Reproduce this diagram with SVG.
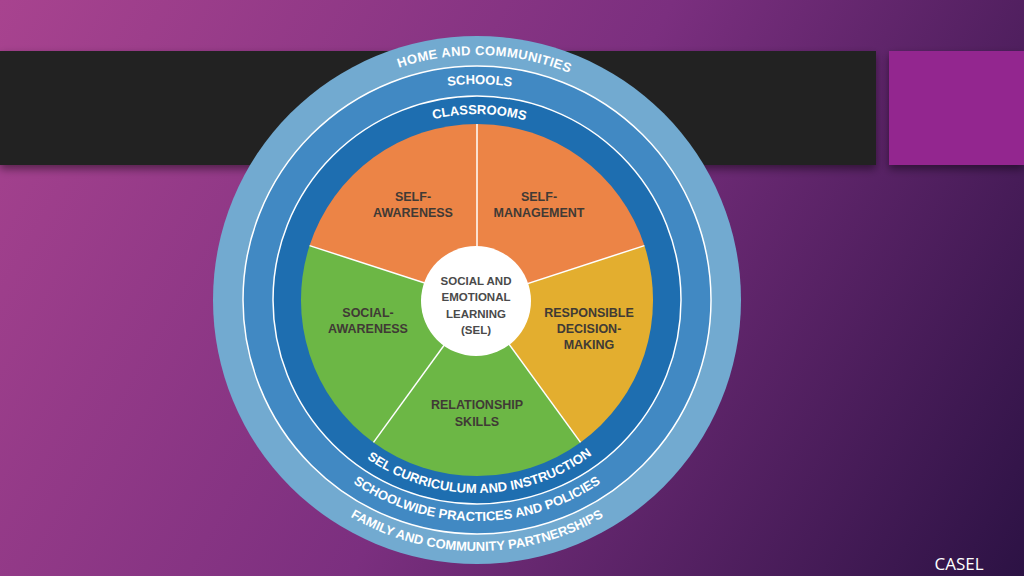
<svg xmlns="http://www.w3.org/2000/svg" width="1024" height="576" viewBox="0 0 1024 576">
  <defs>
    <linearGradient id="bg" x1="0" y1="0" x2="1024" y2="576" gradientUnits="userSpaceOnUse">
      <stop offset="0" stop-color="#a8438f"/>
      <stop offset="0.5" stop-color="#7b2f7f"/>
      <stop offset="1" stop-color="#2c1244"/>
    </linearGradient>
    <filter id="shadow" x="-5%" y="-20%" width="110%" height="150%">
      <feDropShadow dx="0" dy="4" stdDeviation="4" flood-color="#000" flood-opacity="0.45"/>
    </filter>
    <path id="pHome" d="M 232 300 A 245 245 0 0 1 722 300"/>
    <path id="pSchools" d="M 261 300 A 216 216 0 0 1 693 300"/>
    <path id="pClass" d="M 291 300 A 186 186 0 0 1 663 300"/>
    <path id="pSel" d="M 284 300 A 193 193 0 0 0 670 300"/>
    <path id="pSchoolwide" d="M 256 300 A 221 221 0 0 0 698 300"/>
    <path id="pFamily" d="M 226 300 A 251 251 0 0 0 728 300"/>
  </defs>
  <style>
    .ring { font-family: "Liberation Sans", Arial, sans-serif; font-weight: bold; font-size: 13px; fill: #ffffff; }
    .lbl { font-family: "Liberation Sans", Arial, sans-serif; font-weight: bold; font-size: 12.5px; fill: #403a35; text-anchor: middle; }
    .ctr { font-family: "Liberation Sans", Arial, sans-serif; font-weight: bold; font-size: 11.5px; fill: #4a4a4a; text-anchor: middle; }
    .sep { stroke: #ffffff; stroke-width: 1.5; fill: none; }
    .ringline { stroke: #ffffff; stroke-width: 1.5; }
  </style>

  <rect x="0" y="0" width="1024" height="576" fill="url(#bg)"/>

  <g id="banner">
    <rect x="0" y="51" width="876" height="114" fill="#232323" filter="url(#shadow)"/>
    <rect x="889" y="51" width="135" height="114" fill="#93268f" filter="url(#shadow)"/>
  </g>

  <g id="ring-home">
    <circle cx="477" cy="300" r="264" fill="#72aad0"/>
    <text class="ring"><textPath href="#pHome" startOffset="51%" text-anchor="middle" letter-spacing="0.4">HOME AND COMMUNITIES</textPath></text>
    <text class="ring"><textPath href="#pFamily" startOffset="50%" text-anchor="middle">FAMILY AND COMMUNITY PARTNERSHIPS</textPath></text>
  </g>
  <g id="ring-schools">
    <circle cx="477" cy="300" r="234" fill="#4189c3" class="ringline"/>
    <text class="ring"><textPath href="#pSchools" startOffset="50.4%" text-anchor="middle">SCHOOLS</textPath></text>
    <text class="ring"><textPath href="#pSchoolwide" startOffset="50%" text-anchor="middle">SCHOOLWIDE PRACTICES AND POLICIES</textPath></text>
  </g>
  <g id="ring-classrooms">
    <circle cx="477" cy="300" r="204" fill="#1e6eb0" class="ringline"/>
    <text class="ring"><textPath href="#pClass" startOffset="50.4%" text-anchor="middle">CLASSROOMS</textPath></text>
    <text class="ring"><textPath href="#pSel" startOffset="50.5%" text-anchor="middle">SEL CURRICULUM AND INSTRUCTION</textPath></text>
  </g>

  <g id="self-awareness">
    <path d="M 477 300 L 309.6 245.6 A 176 176 0 0 1 477 124 Z" fill="#ec8446"/>
    <text class="lbl" x="413" y="201">SELF-</text>
    <text class="lbl" x="413" y="217">AWARENESS</text>
  </g>
  <g id="self-management">
    <path d="M 477 300 L 477 124 A 176 176 0 0 1 644.4 245.6 Z" fill="#ec8446"/>
    <text class="lbl" x="539" y="201">SELF-</text>
    <text class="lbl" x="539" y="217">MANAGEMENT</text>
  </g>
  <g id="responsible-decision-making">
    <path d="M 477 300 L 644.4 245.6 A 176 176 0 0 1 580.5 442.4 Z" fill="#e3ae2f"/>
    <text class="lbl" x="589" y="317">RESPONSIBLE</text>
    <text class="lbl" x="589" y="333">DECISION-</text>
    <text class="lbl" x="589" y="349">MAKING</text>
  </g>
  <g id="relationship-skills">
    <path d="M 477 300 L 580.5 442.4 A 176 176 0 0 1 373.5 442.4 Z" fill="#6cb745"/>
    <text class="lbl" x="477" y="409">RELATIONSHIP</text>
    <text class="lbl" x="477" y="426">SKILLS</text>
  </g>
  <g id="social-awareness">
    <path d="M 477 300 L 373.5 442.4 A 176 176 0 0 1 309.6 245.6 Z" fill="#6cb745"/>
    <text class="lbl" x="368" y="317">SOCIAL-</text>
    <text class="lbl" x="368" y="333">AWARENESS</text>
  </g>

  <g id="connectors">
    <line class="sep" x1="477" y1="300" x2="477" y2="124"/>
    <line class="sep" x1="477" y1="300" x2="644.4" y2="245.6"/>
    <line class="sep" x1="477" y1="300" x2="580.5" y2="442.4"/>
    <line class="sep" x1="477" y1="300" x2="373.5" y2="442.4"/>
    <line class="sep" x1="477" y1="300" x2="309.6" y2="245.6"/>
  </g>

  <g id="sel-center">
    <circle cx="476" cy="301" r="55" fill="#ffffff"/>
    <text class="ctr" x="476" y="284.5">SOCIAL AND</text>
    <text class="ctr" x="476" y="301">EMOTIONAL</text>
    <text class="ctr" x="476" y="317.5">LEARNING</text>
    <text class="ctr" x="476" y="334">(SEL)</text>
  </g>

  <g id="caption">
    <text x="959" y="570" font-family="'Open Sans', 'Liberation Sans', sans-serif" font-size="17" fill="#ffffff" text-anchor="middle">CASEL</text>
  </g>
</svg>
